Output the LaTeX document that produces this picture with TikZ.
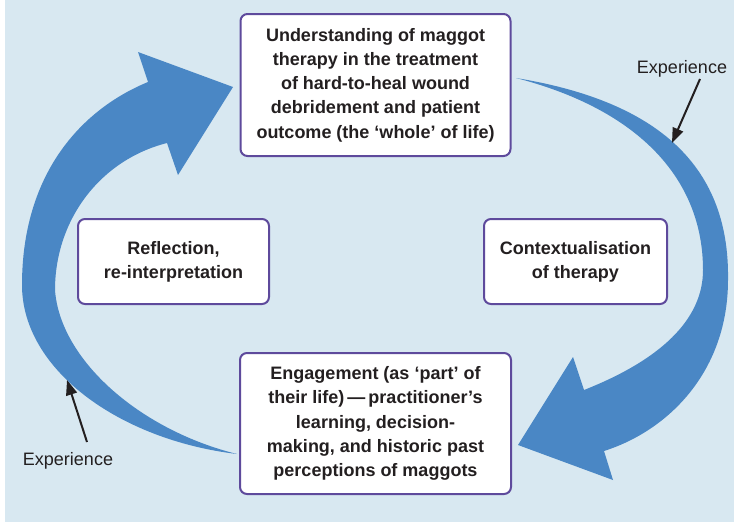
\documentclass[tikz,border=0pt]{standalone}
\usepackage{fontspec}
\setmainfont{Liberation Sans}
\usetikzlibrary{arrows.meta}
\definecolor{bgblue}{RGB}{216,232,241}
\definecolor{arrblue}{RGB}{74,135,197}
\definecolor{boxpurple}{RGB}{94,74,156}
\definecolor{txt}{RGB}{35,31,32}
\begin{document}
\begin{tikzpicture}[x=1pt,y=-1pt,
  box/.style={draw=boxpurple, line width=2pt, fill=white, rounded corners=7pt,
    align=center, text=txt, font=\bfseries\fontsize{18}{24.2}\selectfont, inner sep=0pt},
  exptext/.style={text=txt, font=\fontsize{18}{22}\selectfont, inner sep=0pt, anchor=base},
  exparrow/.style={draw=txt, line width=2pt, -{Triangle[length=15pt,width=11pt]}},
  bigarrow/.style={fill=arrblue}]
\useasboundingbox (0,0) rectangle (734,522);
\fill[bgblue] (5,0) rectangle (734,522);

% right arrow (top box -> bottom box)
\fill[bigarrow] (516,78) .. controls (650,100) and (730,160) .. (728,280)
  .. controls (728,370) and (670,430) .. (604,451)
  -- (613,480) -- (518,445) -- (573,357) -- (584,390)
  .. controls (660,360) and (703,320) .. (703,270)
  .. controls (703,180) and (640,110) .. (516,78) -- cycle;

% left arrow (bottom box -> top box)
\fill[bigarrow] (237,454) .. controls (120,440) and (22,370) .. (22,285)
  .. controls (22,175) and (80,110) .. (148,82)
  -- (138,52) -- (233,87) -- (178,175) -- (167,143)
  .. controls (100,160) and (55,220) .. (55,290)
  .. controls (60,360) and (140,430) .. (237,454) -- cycle;

\node[box, minimum width=270pt, minimum height=142pt] (top) at (375.5,85)
  {Understanding of maggot\\therapy in the treatment\\of hard-to-heal wound\\debridement and patient\\outcome (the ‘whole’ of life)};
\node[box, minimum width=191pt, minimum height=85pt] (refl) at (173.5,261.5)
  {Reflection,\\re-interpretation};
\node[box, minimum width=183pt, minimum height=85pt] (ctx) at (575.5,261.5)
  {Contextualisation\\of therapy};
\node[box, minimum width=271pt, minimum height=141pt] (eng) at (375.5,423.5)
  {Engagement (as ‘part’ of\\their life)\,—\,practitioner’s\\learning, decision-\\making, and historic past\\perceptions of maggots};

\node[exptext] (exp1) at (682,73) {Experience};
\node[exptext] (exp2) at (68,465) {Experience};
\coordinate (e1s) at (700,79);
\coordinate (e1t) at (672,143);
\coordinate (e2s) at (87,442);
\coordinate (e2t) at (67,380);
\draw[exparrow] (e1s) -- (e1t);
\draw[exparrow] (e2s) -- (e2t);
\end{tikzpicture}
\end{document}
